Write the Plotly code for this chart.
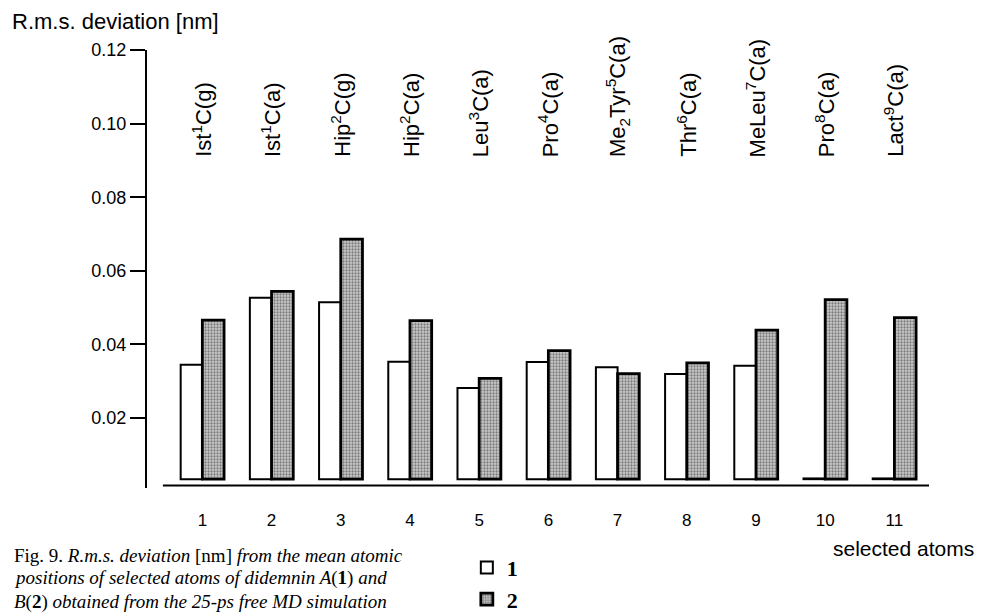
import numpy as np
import plotly.graph_objects as go

# ---- data ----
groups = [1, 2, 3, 4, 5, 6, 7, 8, 9, 10, 11]
tick_labels = ["1", "2", "3", "4", "5", "6", "7", "8", "9", "10", "11"]
atom_labels = [
    "Ist<sup>1</sup>C(g)", "Ist<sup>1</sup>C(a)", "Hip<sup>2</sup>C(g)", "Hip<sup>2</sup>C(a)",
    "Leu<sup>3</sup>C(a)", "Pro<sup>4</sup>C(a)", "Me<sub>2</sub>Tyr<sup>5</sup>C(a)",
    "Thr<sup>6</sup>C(a)", "MeLeu<sup>7</sup>C(a)", "Pro<sup>8</sup>C(a)", "Lact<sup>9</sup>C(a)",
]
rmsd_1 = [0.0345, 0.0527, 0.0515, 0.0353, 0.0282, 0.0352, 0.0338, 0.0320, 0.0342, 0.0036, 0.0036]
rmsd_2 = [0.0466, 0.0544, 0.0686, 0.0465, 0.0308, 0.0383, 0.0321, 0.0350, 0.0439, 0.0522, 0.0473]
y_ticks = [0.02, 0.04, 0.06, 0.08, 0.10, 0.12]
y_tick_text = ["0.02", "0.04", "0.06", "0.08", "0.10", "0.12"]

bar_base = 0.0034  # bars in the original start slightly above zero

SANS = "Liberation Sans, Arial, sans-serif"
SERIF = "Liberation Serif, Times New Roman, serif"

fig = go.Figure()
fig.add_trace(go.Bar(
    x=groups, y=np.array(rmsd_1) - bar_base, base=bar_base, name="<b>1</b>",
    legendgroup="a",
    marker=dict(color="white", line=dict(color="black", width=2)),
))
fig.add_trace(go.Bar(
    x=groups, y=np.array(rmsd_2) - bar_base, base=bar_base, name="<b>2</b>",
    legendgroup="b",
    marker=dict(color="#c0c0c0", line=dict(color="black", width=2.8),
                pattern=dict(shape=".", fgcolor="#2a2a2a", bgcolor="#cccccc",
                             size=3, solidity=0.45)),
))

for g, lab in zip(groups, atom_labels):
    fig.add_annotation(x=g, y=0.0904, xref="x", yref="y", text=lab, textangle=-90,
                       showarrow=False, xanchor="center", yanchor="bottom",
                       font=dict(family=SANS, size=22, color="black"))

# x axis baseline (drawn separately: it starts right of the y axis)
fig.add_shape(type="line", xref="x", yref="y", x0=0.43, x1=11.5, y0=0.0017, y1=0.0017,
              line=dict(color="black", width=2))

# y axis title placed above the axis, as in the original
fig.add_annotation(x=-0.175, y=1.064, xref="paper", yref="paper", text="R.m.s. deviation [nm]",
                   showarrow=False, xanchor="left", yanchor="middle",
                   font=dict(family=SANS, size=22, color="black"))

fig.add_annotation(x=1.060, y=-0.137, xref="paper", yref="paper", text="selected atoms",
                   showarrow=False, xanchor="right", yanchor="middle",
                   font=dict(family=SANS, size=21, color="black"))

caption = [
    "Fig. 9. <i>R.m.s. deviation</i> [nm] <i>from the mean atomic</i>",
    "<i>positions of selected atoms of didemnin A</i>(<b>1</b>) <i>and</i>",
    "<i>B</i>(<b>2</b>) <i>obtained from the 25-ps free MD simulation</i>",
]
for txt, yy in zip(caption, [-0.153, -0.206, -0.261]):
    fig.add_annotation(x=-0.1726, y=yy, xref="paper", yref="paper", text=txt,
                       showarrow=False, xanchor="left", yanchor="middle",
                       font=dict(family=SERIF, size=19, color="black"))

# the page adds an 8 px body margin, so the plot area is shifted up/left by 8 px
fig.update_layout(
    width=986, height=615,
    margin=dict(l=139, r=65, t=42, b=135, autoexpand=False),
    paper_bgcolor="white", plot_bgcolor="white",
    barmode="group", bargap=0.373, bargroupgap=0,
    showlegend=True,
    legend=dict(x=0.409, y=-0.134, xanchor="left", yanchor="top",
                font=dict(family=SERIF, size=22, color="black"),
                bgcolor="rgba(0,0,0,0)", tracegroupgap=0),
    xaxis=dict(range=[0.2, 11.5], tickvals=groups, ticktext=tick_labels,
               showgrid=False, zeroline=False, showline=False, ticks="",
               ticklabelstandoff=20, tickfont=dict(family=SANS, size=17, color="black")),
    yaxis=dict(range=[0.001, 0.12], tickvals=y_ticks, ticktext=y_tick_text,
               showgrid=False, zeroline=False, showline=True, linecolor="black", linewidth=2,
               ticks="outside", ticklen=15, tickwidth=2, tickcolor="black",
               tickfont=dict(family=SANS, size=18, color="black")),
)

fig.write_html("out.html")
